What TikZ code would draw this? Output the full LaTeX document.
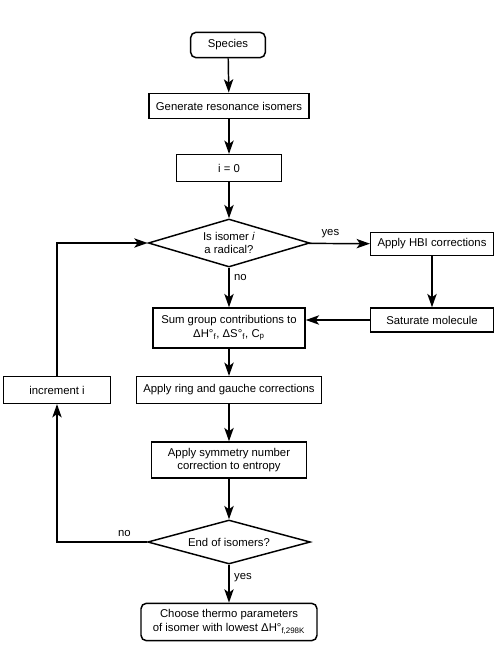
\documentclass[tikz,border=0pt]{standalone}
\usepackage{fontspec}
\setmainfont{Liberation Sans}
\usetikzlibrary{shapes.geometric,arrows.meta}

\tikzset{
  box/.style={draw, line width=1.1pt, align=center, inner sep=1pt, font=\fontsize{8.5}{10}\selectfont},
  roundbox/.style={box, rounded corners=4pt},
  decision/.style={draw, diamond, line width=1.1pt, align=center, inner sep=0pt, aspect=3.4, font=\fontsize{8.5}{10}\selectfont},
  arr/.style={line width=1.1pt, -{Stealth[length=10pt,width=7pt,inset=2.5pt]}},
  lbl/.style={font=\fontsize{8.5}{10}\selectfont}
}

\begin{document}
\begin{tikzpicture}[x=0.75pt,y=0.75pt,yscale=-1,xscale=1]
\useasboundingbox (0,0) rectangle (499,664);

%Shape: main column
\node [roundbox, minimum width=56pt, minimum height=19pt] (species) at (228,45) {Species};
\node [box, minimum width=120pt, minimum height=19pt] (gen) at (229,106) {Generate resonance isomers};
\node [box, minimum width=79pt, minimum height=20pt] (izero) at (229,168) {i = 0};
\node [decision, minimum width=121pt, minimum height=36pt] (radical) at (229,243) {Is isomer \textit{i}\\ a radical?};
\node [box, minimum width=114pt, minimum height=30pt] (sum) at (229,328) {Sum group contributions to\\ ΔH°\textsubscript{f}, ΔS°\textsubscript{f}, C\textsubscript{p}};
\node [box, minimum width=139pt, minimum height=20pt] (ring) at (229,390) {Apply ring and gauche corrections};
\node [box, minimum width=116pt, minimum height=27pt] (symm) at (229,460) {Apply symmetry number\\ correction to entropy};
\node [decision, minimum width=122pt, minimum height=33pt] (endiso) at (229,542) {End of isomers?};
\node [roundbox, minimum width=132pt, minimum height=28pt] (choose) at (229,622) {Choose thermo parameters\\ of isomer with lowest ΔH°\textsubscript{f,298K}};

%Shape: right column
\node [box, minimum width=92pt, minimum height=17pt] (hbi) at (432,244) {Apply HBI corrections};
\node [box, minimum width=92pt, minimum height=18pt] (saturate) at (432,320) {Saturate molecule};

%Shape: left column
\node [box, minimum width=80pt, minimum height=20pt] (incr) at (57,390) {increment i};

%Connectors
\draw [arr] (species) -- (gen);
\draw [arr] (gen) -- (izero);
\draw [arr] (izero) -- (radical);
\draw [arr] (radical) -- node [lbl, above, pos=0.35] (yes1) {yes} (hbi);
\draw [arr] (radical) -- node [lbl, right, pos=0.25] (no1) {no} (sum);
\draw [arr] (hbi) -- (saturate);
\draw [arr] (saturate.west) -- (saturate.west -| sum.east);
\draw [arr] (sum) -- (ring);
\draw [arr] (ring) -- (symm);
\draw [arr] (symm) -- (endiso);
\draw [arr] (endiso) -- node [lbl, right, pos=0.35] (yes2) {yes} (choose);
\draw [arr] (endiso.west) -| node [lbl, above, pos=0.125] (no2) {no} (incr.south);
\draw [arr] (incr.north) |- (radical.west);

\end{tikzpicture}
\end{document}
